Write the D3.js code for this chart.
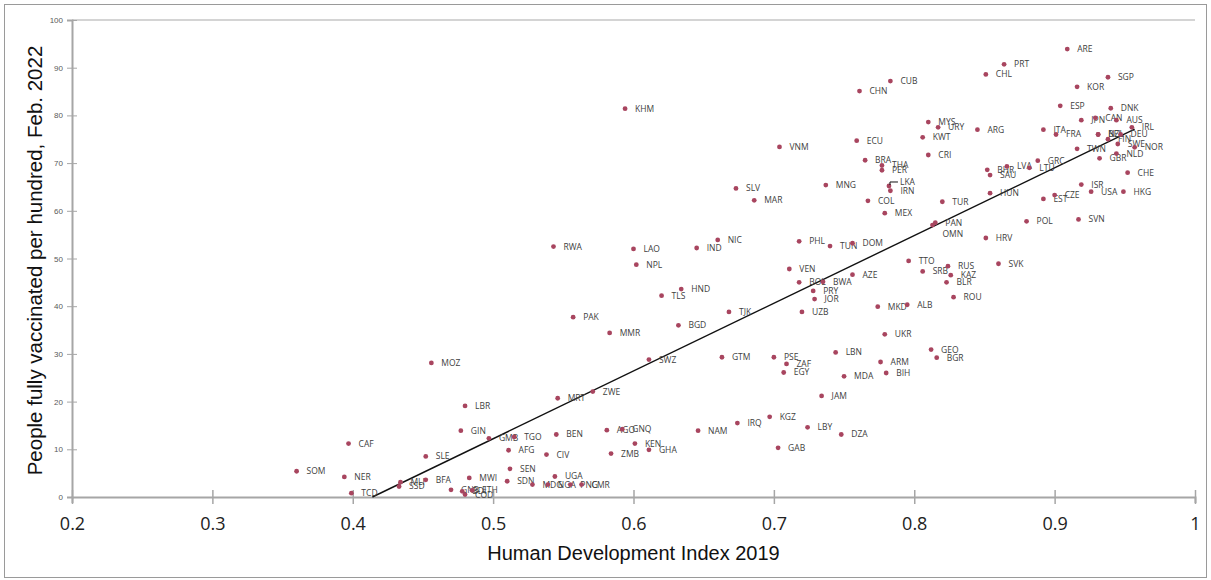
<!DOCTYPE html>
<html>
<head>
<meta charset="utf-8">
<script src="https://cdn.jsdelivr.net/npm/d3@7"></script>
<style>
  body { margin: 0; background: #fff; }
  svg { display: block; }
</style>
</head>
<body>
<div id="chart"></div>
<script>
// Country codes, HDI 2019 and people fully vaccinated per hundred (Feb. 2022)
const codes = [
  "SOM","CAF","NER","TCD","MOZ","LBR","GIN","SLE","MLI","SSD","BFA","MWI","GNB","BDI","COD","ETH",
  "GMB","TGO","AFG","SEN","SDN","BEN","CIV","UGA","MDG","NGA","PNG","CMR","MRT","ZWE","RWA","PAK",
  "MMR","KHM","LAO","NPL","SWZ","AGO","GNQ","KEN","GHA","ZMB","TLS","HND","BGD","IND","NIC","NAM",
  "GTM","TJK","SLV","IRQ","MAR","KGZ","PSE","GAB","VNM","EGY","ZAF","VEN","PHL","BOL","UZB","LBY",
  "PRY","JOR","JAM","BWA","MNG","TUN","LBN","DZA","MDA","DOM","AZE","ECU","CHN","BRA","COL","MKD",
  "ARM","THA","PER","MEX","UKR","BIH","LKA","IRN","CUB","ALB","TTO","KWT","SRB","MYS","CRI","GEO",
  "OMN","PAN","BGR","URY","TUR","BLR","RUS","KAZ","ROU","ARG","CHL","HRV","BHR","SAU","HUN","SVK",
  "PRT","LVA","LTU","POL","GRC","ARE","EST","ITA","CZE","FRA","ESP","KOR","TWN","SVN","ISR","JPN",
  "USA","CAN","BEL","NZL","GBR","SGP","FIN","DNK","AUS","NLD","SWE","DEU","HKG","CHE","IRL","NOR"
];
const hdi = [
  0.360,0.397,0.394,0.399,0.456,0.480,0.477,0.452,0.434,0.433,0.452,0.483,0.470,0.478,0.480,0.485,
  0.497,0.515,0.511,0.512,0.510,0.545,0.538,0.544,0.528,0.539,0.555,0.563,0.546,0.571,0.543,0.557,
  0.583,0.594,0.600,0.602,0.611,0.581,0.592,0.601,0.611,0.584,0.620,0.634,0.632,0.645,0.660,0.646,
  0.663,0.668,0.673,0.674,0.686,0.697,0.700,0.703,0.704,0.707,0.709,0.711,0.718,0.718,0.720,0.724,
  0.728,0.729,0.734,0.735,0.737,0.740,0.744,0.748,0.750,0.756,0.756,0.759,0.761,0.765,0.767,0.774,
  0.776,0.777,0.777,0.779,0.779,0.780,0.782,0.783,0.783,0.795,0.796,0.806,0.806,0.810,0.810,0.812,
  0.813,0.815,0.816,0.817,0.820,0.823,0.824,0.826,0.828,0.845,0.851,0.851,0.852,0.854,0.854,0.860,
  0.864,0.866,0.882,0.880,0.888,0.909,0.892,0.892,0.900,0.901,0.904,0.916,0.916,0.917,0.919,0.919,
  0.926,0.929,0.931,0.931,0.932,0.938,0.938,0.940,0.944,0.944,0.945,0.947,0.949,0.952,0.955,0.957
];
const vaccinated = [
  5.4,11.2,4.2,0.8,28.1,19.1,13.9,8.5,3.1,2.2,3.6,4.0,1.5,1.2,0.5,1.4,
  12.3,12.6,9.8,5.9,3.3,13.1,8.9,4.3,2.6,2.6,2.6,2.6,20.7,22.1,52.5,37.7,
  34.4,81.4,52.0,48.7,28.8,14.0,14.2,11.2,9.9,9.1,42.2,43.6,36.0,52.2,53.9,13.9,
  29.3,38.8,64.7,15.5,62.2,16.8,29.3,10.3,73.4,26.1,27.9,47.8,53.6,45.0,38.8,14.6,
  43.2,41.5,21.2,45.1,65.4,52.6,30.3,13.1,25.3,53.2,46.6,74.7,85.1,70.6,62.1,39.9,
  28.3,69.5,68.5,59.5,34.1,26.0,65.2,64.2,87.2,40.3,49.5,75.4,47.3,78.6,71.7,30.9,
  57.0,57.5,29.2,77.5,61.9,45.0,48.4,46.5,41.9,77.0,88.6,54.3,68.6,67.5,63.7,48.9,
  90.7,69.3,69.0,57.8,70.5,93.9,62.5,77.0,63.3,76.0,82.0,86.0,73.0,58.2,65.5,79.0,
  64.0,79.5,76.0,76.0,71.0,88.0,75.0,81.5,79.0,72.0,74.0,76.0,64.0,68.0,77.5,73.3
];

// Linear trend line, end points
const trendHdi = [0.414, 0.957];
const trendVaccinated = [0.0, 77.1];

const xTicks = [0.2, 0.3, 0.4, 0.5, 0.6, 0.7, 0.8, 0.9, 1];
const yTicks = [0, 10, 20, 30, 40, 50, 60, 70, 80, 90, 100];

// a few labels are moved off their default spot (right of the dot)
const labelShift = {
  OMN: { dx: 0, dy: 9 },
  LKA: { dx: 1, dy: -4, leader: true }
};

const width = 1211;
const height = 580;
const margin = { top: 20, right: 16, bottom: 83, left: 72 };

const svg = d3.select("#chart")
  .append("svg")
  .attr("width", width)
  .attr("height", height);

// Outer frame
svg.append("rect")
  .attr("x", 4.5)
  .attr("y", 4.5)
  .attr("width", width - 9)
  .attr("height", height - 7)
  .attr("fill", "none")
  .attr("stroke", "#9a9a9a")
  .attr("stroke-width", 1);

const x = d3.scaleLinear()
  .domain([0.2, 1])
  .range([margin.left, width - margin.right]);

const y = d3.scaleLinear()
  .domain([0, 100])
  .range([height - margin.bottom, margin.top]);

// Top border of plot area
svg.append("line")
  .attr("x1", x(0.2))
  .attr("x2", x(1))
  .attr("y1", y(100))
  .attr("y2", y(100))
  .attr("stroke", "#d4d4d4")
  .attr("stroke-width", 2);

// Y axis
const yAxis = svg.append("g")
  .attr("transform", `translate(${margin.left},0)`)
  .call(d3.axisLeft(y).tickValues(yTicks).tickSize(5).tickPadding(4));
yAxis.selectAll(".tick line").attr("x2", 5).attr("x1", -5).attr("stroke", "#a6a6a6");
yAxis.select(".domain").attr("stroke", "#a6a6a6").attr("stroke-width", 2);
yAxis.selectAll("text")
  .attr("font-family", "Liberation Sans, Arial, sans-serif")
  .attr("font-size", 8)
  .attr("fill", "#595959");

// X axis
const xAxis = svg.append("g")
  .attr("transform", `translate(0,${y(0)})`)
  .call(d3.axisBottom(x).tickValues(xTicks).tickFormat(d3.format("")).tickSize(6).tickPadding(14));
xAxis.selectAll(".tick line").attr("y1", -7).attr("y2", 7).attr("stroke", "#a6a6a6").attr("stroke-width", 1.5);
xAxis.select(".domain").attr("stroke", "#a6a6a6").attr("stroke-width", 2);
xAxis.selectAll("text")
  .attr("font-family", "Open Sans, sans-serif")
  .attr("font-size", 18)
  .attr("fill", "#222");

// Axis titles
svg.append("text")
  .attr("x", (x(0.2) + x(1)) / 2)
  .attr("y", 560)
  .attr("text-anchor", "middle")
  .attr("font-family", "Liberation Sans, Arial, sans-serif")
  .attr("font-size", 20)
  .attr("fill", "#111")
  .text("Human Development Index 2019");

svg.append("text")
  .attr("transform", `translate(42,${(y(0) + y(100)) / 2 + 2}) rotate(-90)`)
  .attr("text-anchor", "middle")
  .attr("font-family", "Liberation Sans, Arial, sans-serif")
  .attr("font-size", 20.5)
  .attr("fill", "#111")
  .text("People fully vaccinated per hundred, Feb. 2022");

// Trend line
svg.append("line")
  .attr("x1", x(trendHdi[0]))
  .attr("y1", y(trendVaccinated[0]))
  .attr("x2", x(trendHdi[1]))
  .attr("y2", y(trendVaccinated[1]))
  .attr("stroke", "#111")
  .attr("stroke-width", 1.4);

// Points and labels
const data = codes.map((c, i) => ({ code: c, hdi: hdi[i], vac: vaccinated[i] }));

const points = svg.append("g")
  .selectAll("g")
  .data(data)
  .enter()
  .append("g");

points.append("circle")
  .attr("cx", d => x(d.hdi))
  .attr("cy", d => y(d.vac))
  .attr("r", 2.4)
  .attr("fill", "#a8455f");

const shift = d => labelShift[d.code] || { dx: 0, dy: 0 };

points.append("text")
  .attr("x", d => x(d.hdi) + 10 + shift(d).dx)
  .attr("y", d => y(d.vac) + shift(d).dy)
  .attr("dy", "0.35em")
  .attr("font-family", "Open Sans, sans-serif")
  .attr("font-size", 8.5)
  .attr("fill", "#404040")
  .text(d => d.code);

// Leader lines for shifted labels
points.filter(d => shift(d).leader)
  .append("path")
  .attr("d", d => {
    const cx = x(d.hdi), cy = y(d.vac), s = shift(d);
    return `M${cx + 1},${cy - 1}V${cy + s.dy}H${cx + 8 + s.dx}`;
  })
  .attr("fill", "none")
  .attr("stroke", "#111")
  .attr("stroke-width", 1);
</script>
</body>
</html>
